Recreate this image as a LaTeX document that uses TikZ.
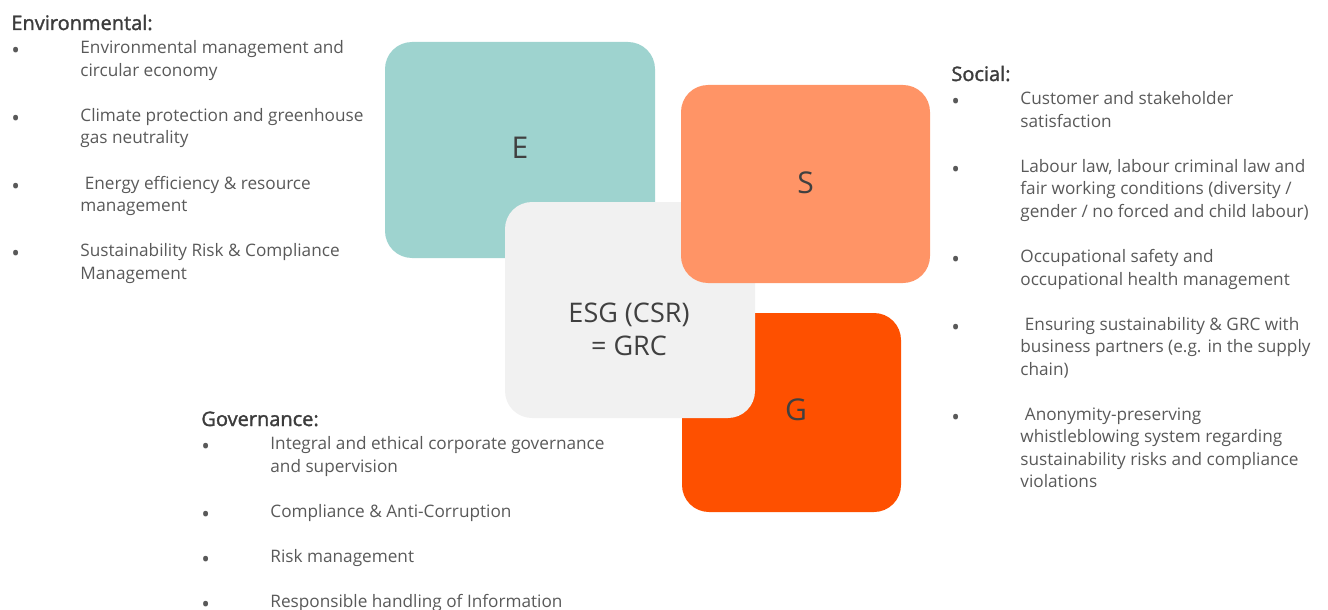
\documentclass[tikz,border=0pt]{standalone}
\usepackage{fontspec}
\setmainfont{Open Sans}
\newfontfamily\headfont[FakeBold=1.6]{Open Sans}
\usetikzlibrary{positioning}

\definecolor{envteal}{HTML}{9ED3CF}
\definecolor{socsalmon}{HTML}{FF9466}
\definecolor{govorange}{HTML}{FE5000}
\definecolor{esggray}{HTML}{F1F1F1}
\definecolor{bodytext}{HTML}{595959}
\definecolor{headtext}{HTML}{3C3C3C}
\definecolor{tiletext}{HTML}{404040}

% bullet, then the lines of one point
\newcommand{\bitem}[1]{\makebox[34.5pt][l]{\raisebox{-2.5pt}{\fontsize{11.5}{11.25}\selectfont\textbullet}}\begin{tabular}[t]{@{}l@{}}#1\end{tabular}}

\begin{document}
\begin{tikzpicture}[x=0.5pt,y=-0.5pt,
  tile/.style={rectangle,rounded corners=13.5pt,inner sep=0pt,text=tiletext,
    font=\fontsize{15}{17}\selectfont},
  head/.style={anchor=base west,inner sep=0pt,text=headtext,
    font=\headfont\fontsize{10}{11}\selectfont},
  item/.style={inner sep=0pt,text=bodytext,font=\fontsize{8.6}{11.25}\selectfont}]

\useasboundingbox (0,0) rectangle (1328,610);

% the four tiles
\node[tile,fill=envteal,minimum width=135pt,minimum height=108pt] (E) at (520,150) {\raisebox{2pt}{E}};
\node[tile,fill=govorange,minimum width=109.5pt,minimum height=99.5pt] (G) at (791.5,412.5) {\hspace{4.5pt}\raisebox{2.5pt}{G}};
\node[tile,fill=esggray,minimum width=125pt,minimum height=108pt] (ESG) at (630,310) {};
\node[tile,fill=socsalmon,minimum width=124.5pt,minimum height=99pt] (S) at (805.5,184) {\raisebox{1.5pt}{S}};
\node[tile,align=center,font=\fontsize{13.5}{16.5}\selectfont] (esg_label) at (629,329) {ESG (CSR)\\= GRC};

% Environmental
\node[head] (env) at (11,30) {Environmental:};
\node[item,below right=3.5pt and 0pt of env.south west] (e_1)
  {\bitem{Environmental management and\\circular economy}};
\node[item,below right=10.9pt and 0pt of e_1.south west] (e_2)
  {\bitem{Climate protection and greenhouse\\gas neutrality}};
\node[item,below right=10.9pt and 0pt of e_2.south west] (e_3)
  {\bitem{\ Energy efficiency \& resource\\management}};
\node[item,below right=10.9pt and 0pt of e_3.south west] (e_4)
  {\bitem{Sustainability Risk \& Compliance\\Management}};

% Social
\node[head] (soc) at (951,81) {Social:};
\node[item,below right=3.5pt and 0pt of soc.south west] (s_1)
  {\bitem{Customer and stakeholder\\satisfaction}};
\node[item,below right=10.9pt and 0pt of s_1.south west] (s_2)
  {\bitem{Labour law, labour criminal law and\\fair working conditions (diversity /\\gender / no forced and child labour)}};
\node[item,below right=10.9pt and 0pt of s_2.south west] (s_3)
  {\bitem{Occupational safety and\\occupational health management}};
\node[item,below right=10.9pt and 0pt of s_3.south west] (s_4)
  {\bitem{\ Ensuring sustainability \& GRC with\\business partners (e.g. in the supply\\chain)}};
\node[item,below right=10.9pt and 0pt of s_4.south west] (s_5)
  {\bitem{\ Anonymity-preserving\\whistleblowing system regarding\\sustainability risks and compliance\\violations}};

% Governance
\node[head] (gov) at (201,426) {Governance:};
\node[item,below right=3.5pt and 0pt of gov.south west] (g_1)
  {\bitem{Integral and ethical corporate governance\\and supervision}};
\node[item,below right=10.9pt and 0pt of g_1.south west] (g_2)
  {\bitem{Compliance \& Anti-Corruption}};
\node[item,below right=10.9pt and 0pt of g_2.south west] (g_3)
  {\bitem{Risk management}};
\node[item,below right=10.9pt and 0pt of g_3.south west] (g_4)
  {\bitem{Responsible handling of Information}};

\end{tikzpicture}
\end{document}
